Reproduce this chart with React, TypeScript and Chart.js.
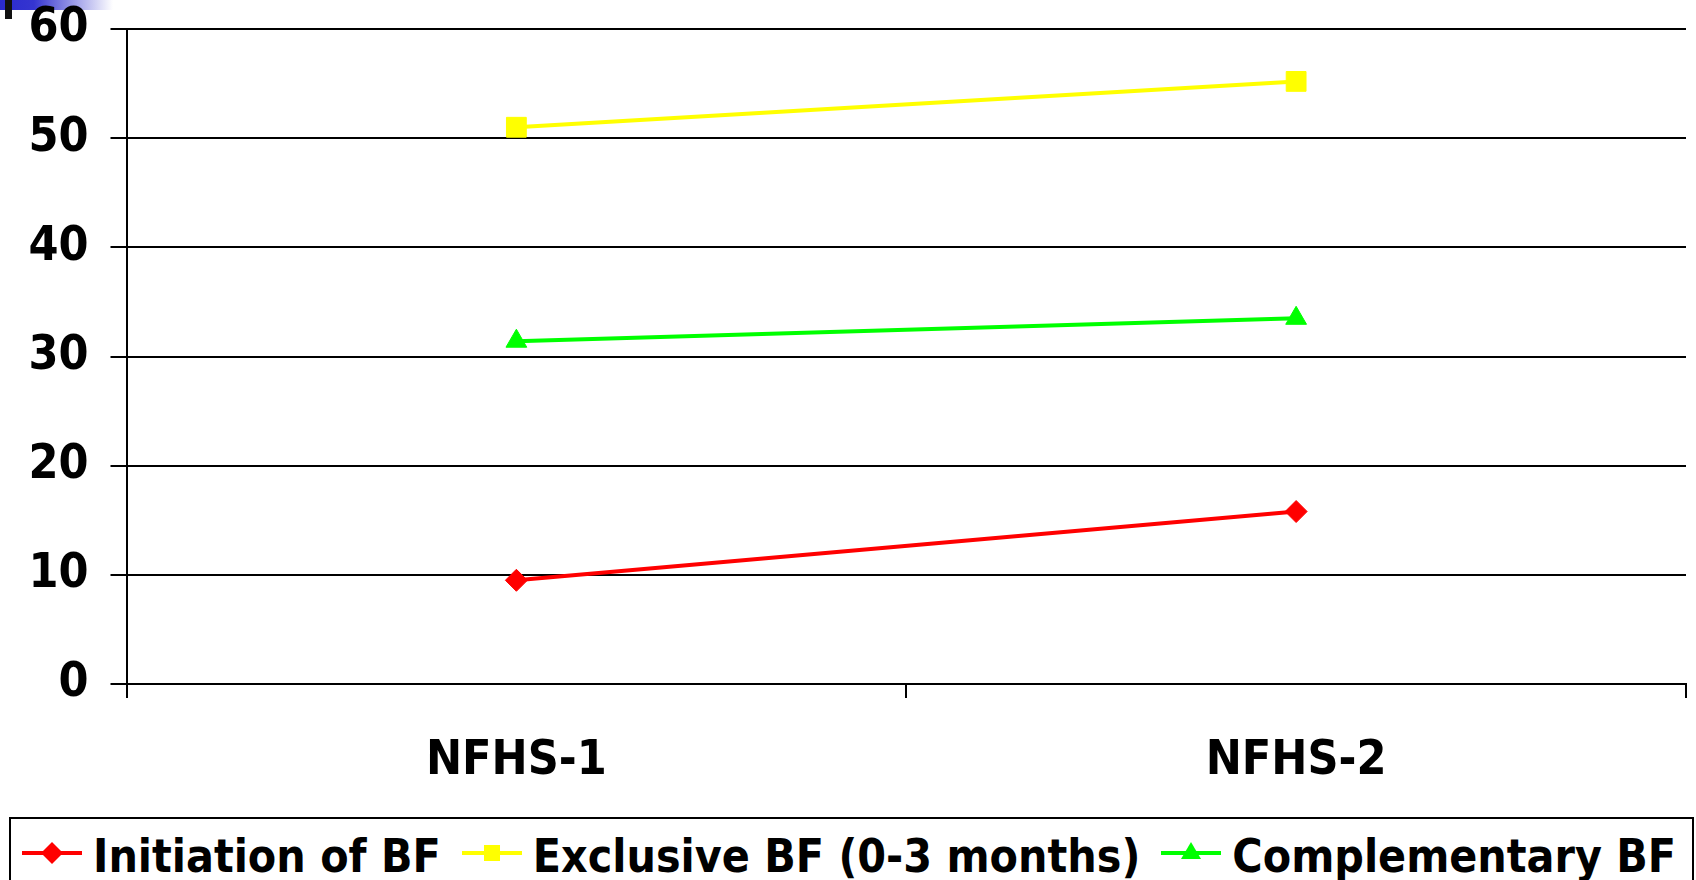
import React, { useEffect, useRef } from "react";
import { Chart, registerables } from "chart.js";

Chart.register(...registerables);

const categories = ["NFHS-1", "NFHS-2"];
const initiationBF = [9.5, 15.8];
const exclusiveBF = [51.0, 55.2];
const complementaryBF = [31.4, 33.5];
const seriesNames = ["Initiation of BF", "Exclusive BF (0-3 months)", "Complementary BF"];
const seriesColors = ["#FF0000", "#FFFF00", "#00FF00"];
const yMin = 0;
const yMax = 60;
const yStep = 10;

const FONT = '"DejaVu Sans Condensed", "DejaVu Sans", sans-serif';

function LegendMarker({ kind, color }: { kind: string; color: string }) {
  return (
    <svg width={60} height={26} style={{ display: "block", position: "relative", top: -3 }}>
      <line x1={0} y1={13} x2={60} y2={13} stroke={color} strokeWidth={4} />
      {kind === "diamond" && <polygon points="30,2 41,13 30,24 19,13" fill={color} />}
      {kind === "square" && <rect x={22} y={5} width={16} height={16} fill={color} />}
      {kind === "triangle" && <polygon points="30,2 40,19 20,19" fill={color} />}
    </svg>
  );
}

export default function App() {
  const ref = useRef<HTMLCanvasElement | null>(null);

  useEffect(() => {
    if (!ref.current) return;
    const tickFont = { family: FONT, size: 48, weight: "bold" as const };
    const chart = new Chart(ref.current, {
      type: "line",
      data: {
        labels: categories,
        datasets: [
          {
            label: seriesNames[0],
            data: initiationBF,
            borderColor: seriesColors[0],
            backgroundColor: seriesColors[0],
            borderWidth: 4,
            pointStyle: "rectRot",
            pointRadius: 11,
            pointBorderWidth: 1,
            tension: 0,
          },
          {
            label: seriesNames[1],
            data: exclusiveBF,
            borderColor: seriesColors[1],
            backgroundColor: seriesColors[1],
            borderWidth: 4,
            pointStyle: "rect",
            pointRadius: 14,
            pointBorderWidth: 1,
            tension: 0,
          },
          {
            label: seriesNames[2],
            data: complementaryBF,
            borderColor: seriesColors[2],
            backgroundColor: seriesColors[2],
            borderWidth: 4,
            pointStyle: "triangle",
            pointRadius: 12,
            pointBorderWidth: 1,
            tension: 0,
          },
        ],
      },
      options: {
        responsive: false,
        animation: false,
        layout: { autoPadding: false, padding: { top: 29, right: 10, bottom: 16, left: 0 } },
        plugins: { legend: { display: false }, tooltip: { enabled: false } },
        scales: {
          x: {
            type: "category",
            offset: true,
            grid: {
              offset: true,
              drawOnChartArea: true,
              color: (c: any) => (c.index === categories.length ? "#000" : "rgba(0,0,0,0)"),
              tickColor: "#000",
              lineWidth: 2,
              tickWidth: 2,
              tickLength: 14,
            },
            border: { display: true, color: "#000", width: 2 },
            ticks: { color: "#000", font: tickFont, padding: 35, maxRotation: 0 },
            afterFit: (s: any) => {
              s.height = 100;
              s.paddingLeft = 0;
              s.paddingRight = 0;
            },
          },
          y: {
            min: yMin,
            max: yMax,
            ticks: { stepSize: yStep, color: "#000", font: tickFont, padding: 22 },
            grid: { color: "#000", lineWidth: 2, tickLength: 16 },
            border: { display: true, color: "#000", width: 2 },
            afterFit: (s: any) => {
              s.width = 126.5;
              s.paddingTop = 0;
              s.paddingBottom = 0;
            },
          },
        },
      },
    });
    return () => chart.destroy();
  }, []);

  const kinds = ["diamond", "square", "triangle"];

  return (
    <div style={{ position: "absolute", left: 0, top: 0, width: 1696, height: 880, overflow: "hidden", background: "#fff" }}>
      <div
        style={{
          position: "absolute",
          left: 0,
          top: 0,
          width: 113,
          height: 10,
          background: "linear-gradient(to right, #2b2bcf 0%, #3535d0 30%, #ffffff 100%)",
        }}
      />
      <div style={{ position: "absolute", left: 5, top: 0, width: 7, height: 19, background: "#111" }} />
      <canvas ref={ref} width={1696} height={800} style={{ position: "absolute", left: 0, top: 0 }} />
      <div
        style={{
          position: "absolute",
          left: 9,
          top: 817,
          width: 1685,
          height: 80,
          boxSizing: "border-box",
          border: "2px solid #000",
          paddingLeft: 11,
          paddingTop: 14,
        }}
      >
        <div style={{ display: "flex", alignItems: "center", height: 46 }}>
          {seriesNames.map((name, i) => (
            <div key={name} style={{ display: "flex", alignItems: "center", marginRight: 21 }}>
              <LegendMarker kind={kinds[i]} color={seriesColors[i]} />
              <span
                style={{
                  marginLeft: 11,
                  fontFamily: FONT,
                  fontWeight: "bold",
                  fontSize: 46,
                  lineHeight: "46px",
                  color: "#000",
                  whiteSpace: "nowrap",
                }}
              >
                {name}
              </span>
            </div>
          ))}
        </div>
      </div>
    </div>
  );
}
